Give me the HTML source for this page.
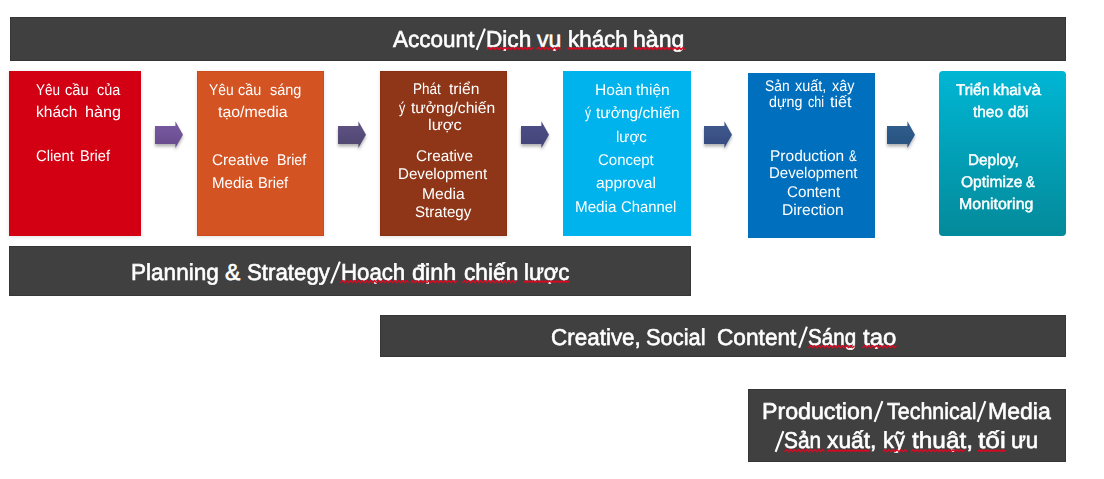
<!DOCTYPE html>
<html><head><meta charset="utf-8"><style>
html,body{margin:0;padding:0;background:#fff;width:1104px;height:479px;overflow:hidden;position:relative}
.b{position:absolute;box-sizing:border-box}
.bar{position:absolute;box-sizing:border-box;background:#404040;border:1px solid #363636}
.t{position:absolute;font-family:"Liberation Sans",sans-serif;line-height:0;white-space:pre;color:#fff;transform-origin:0 0}
.big{-webkit-text-stroke:0.6px #fff}
.med{-webkit-text-stroke:0.45px #fff}
.gp{text-rendering:geometricPrecision}
svg{position:absolute;left:0;top:0}
</style></head><body>
<div class="bar" style="left:10px;top:17px;width:1056px;height:44px"></div>
<div class="bar" style="left:9px;top:246px;width:682px;height:50px"></div>
<div class="bar" style="left:380px;top:315px;width:686px;height:42px"></div>
<div class="bar" style="left:748px;top:389px;width:318px;height:73px"></div>
<div class="b" style="left:9px;top:71px;width:132px;height:165px;background:#d20012;box-shadow:0 1px 4px rgba(0,0,0,.12)"></div>
<div class="b" style="left:197px;top:71px;width:127px;height:165px;background:#d45323;border:1px solid #cc4a1c;box-shadow:0 1px 4px rgba(0,0,0,.12)"></div>
<div class="b" style="left:380px;top:71px;width:127px;height:165px;background:#8f3618;border:1px solid #873014;box-shadow:0 1px 4px rgba(0,0,0,.12)"></div>
<div class="b" style="left:563px;top:71px;width:128px;height:165px;background:#00b3ec;"></div>
<div class="b" style="left:748px;top:73px;width:127px;height:165px;background:#0070be;"></div>
<div class="b" style="left:939px;top:71px;width:127px;height:165px;background:linear-gradient(#00b6d4,#048a9a);border-radius:4px"></div>
<svg width="1104" height="479" viewBox="0 0 1104 479"><defs><linearGradient id="g0" x1="0" y1="0" x2="0" y2="1"><stop offset="0" stop-color="#7a5ba3"/><stop offset="1" stop-color="#664a8c"/></linearGradient><linearGradient id="g1" x1="0" y1="0" x2="0" y2="1"><stop offset="0" stop-color="#5f5486"/><stop offset="1" stop-color="#4f456e"/></linearGradient><linearGradient id="g2" x1="0" y1="0" x2="0" y2="1"><stop offset="0" stop-color="#4e4f88"/><stop offset="1" stop-color="#424477"/></linearGradient><linearGradient id="g3" x1="0" y1="0" x2="0" y2="1"><stop offset="0" stop-color="#3f5b8f"/><stop offset="1" stop-color="#36497e"/></linearGradient><linearGradient id="g4" x1="0" y1="0" x2="0" y2="1"><stop offset="0" stop-color="#2f5f8f"/><stop offset="1" stop-color="#2a517e"/></linearGradient><filter id="sh" x="-30%" y="-30%" width="160%" height="180%"><feDropShadow dx="0" dy="2.5" stdDeviation="1.8" flood-color="#000" flood-opacity="0.3"/></filter></defs><polygon points="155,126 175.4,126 175.4,121.3 183,134.8 175.4,148 175.4,144 155,144" fill="url(#g0)" filter="url(#sh)"/><polygon points="338,126 358.4,126 358.4,121.3 366,134.8 358.4,148 358.4,144 338,144" fill="url(#g1)" filter="url(#sh)"/><polygon points="521,126 541.4,126 541.4,121.3 549,134.8 541.4,148 541.4,144 521,144" fill="url(#g2)" filter="url(#sh)"/><polygon points="704,126 724.4,126 724.4,121.3 732,134.8 724.4,148 724.4,144 704,144" fill="url(#g3)" filter="url(#sh)"/><polygon points="887,126 907.4,126 907.4,121.3 915,134.8 907.4,148 907.4,144 887,144" fill="url(#g4)" filter="url(#sh)"/></svg>
<div class="t big gp" style="left:393.00px;top:39.00px;font-size:23px;font-weight:400;transform:scaleX(0.9795)">Account</div>
<div class="t big gp" style="left:486.02px;top:39.00px;font-size:23px;font-weight:400;transform:scaleX(0.9837)">Dịch</div>
<div class="t big gp" style="left:537.00px;top:39.00px;font-size:23px;font-weight:400;transform:scaleX(1.0000)">vụ</div>
<div class="t big gp" style="left:567.53px;top:39.00px;font-size:23px;font-weight:400;transform:scaleX(0.9734)">khách</div>
<div class="t big gp" style="left:632.50px;top:39.00px;font-size:23px;font-weight:400;transform:scaleX(1.0025)">hàng</div>
<div class="t big gp" style="left:131.02px;top:272.00px;font-size:23px;font-weight:400;transform:scaleX(0.9803)">Planning</div>
<div class="t big gp" style="left:225.00px;top:272.00px;font-size:23px;font-weight:400;transform:scaleX(1.0000)">&</div>
<div class="t big gp" style="left:246.53px;top:272.00px;font-size:23px;font-weight:400;transform:scaleX(0.9688)">Strategy</div>
<div class="t big gp" style="left:340.53px;top:272.00px;font-size:23px;font-weight:400;transform:scaleX(0.9661)">Hoạch</div>
<div class="t big gp" style="left:412.00px;top:272.00px;font-size:23px;font-weight:400;transform:scaleX(1.0189)">định</div>
<div class="t big gp" style="left:463.50px;top:272.00px;font-size:23px;font-weight:400;transform:scaleX(0.9872)">chiến</div>
<div class="t big gp" style="left:523.53px;top:272.00px;font-size:23px;font-weight:400;transform:scaleX(0.9651)">lược</div>
<div class="t big gp" style="left:551.02px;top:337.00px;font-size:23px;font-weight:400;transform:scaleX(0.9761)">Creative,</div>
<div class="t big gp" style="left:646.05px;top:337.00px;font-size:23px;font-weight:400;transform:scaleX(0.9499)">Social</div>
<div class="t big gp" style="left:717.01px;top:337.00px;font-size:23px;font-weight:400;transform:scaleX(0.9855)">Content</div>
<div class="t big gp" style="left:808.10px;top:337.00px;font-size:23px;font-weight:400;transform:scaleX(0.8955)">Sáng</div>
<div class="t big gp" style="left:862.50px;top:337.00px;font-size:23px;font-weight:400;transform:scaleX(1.0423)">tạo</div>
<div class="t big gp" style="left:762.49px;top:411.00px;font-size:23px;font-weight:400;transform:scaleX(1.0077)">Production</div>
<div class="t big gp" style="left:886.50px;top:411.00px;font-size:23px;font-weight:400;transform:scaleX(0.9338)">Technical</div>
<div class="t big gp" style="left:987.50px;top:411.00px;font-size:23px;font-weight:400;transform:scaleX(1.0024)">Media</div>
<div class="t big gp" style="left:784.09px;top:440.00px;font-size:23px;font-weight:400;transform:scaleX(0.9072)">Sản</div>
<div class="t big gp" style="left:827.00px;top:440.00px;font-size:23px;font-weight:400;transform:scaleX(0.9902)">xuất,</div>
<div class="t big gp" style="left:883.04px;top:440.00px;font-size:23px;font-weight:400;transform:scaleX(0.9556)">kỹ</div>
<div class="t big gp" style="left:911.50px;top:440.00px;font-size:23px;font-weight:400;transform:scaleX(1.0596)">thuật,</div>
<div class="t big gp" style="left:978.00px;top:440.00px;font-size:23px;font-weight:400;transform:scaleX(1.1431)">tối</div>
<div class="t big gp" style="left:1011.03px;top:440.00px;font-size:23px;font-weight:400;transform:scaleX(0.9660)">ưu</div>
<div class="t gp" style="left:35.90px;top:91.00px;font-size:15.5px;font-weight:400;transform:scaleX(0.8717)">Yêu</div>
<div class="t gp" style="left:64.90px;top:91.00px;font-size:15.5px;font-weight:400;transform:scaleX(0.9479)">cầu</div>
<div class="t gp" style="left:97.00px;top:91.00px;font-size:15.5px;font-weight:400;transform:scaleX(0.9302)">của</div>
<div class="t gp" style="left:36.20px;top:113.00px;font-size:15.5px;font-weight:400;transform:scaleX(1.0040)">khách</div>
<div class="t gp" style="left:85.15px;top:113.00px;font-size:15.5px;font-weight:400;transform:scaleX(1.0468)">hàng</div>
<div class="t gp" style="left:36.00px;top:157.00px;font-size:15.5px;font-weight:400;transform:scaleX(0.9573)">Client</div>
<div class="t gp" style="left:79.86px;top:157.00px;font-size:15.5px;font-weight:400;transform:scaleX(0.9409)">Brief</div>
<div class="t gp" style="left:208.80px;top:91.00px;font-size:15.5px;font-weight:400;transform:scaleX(0.8940)">Yêu</div>
<div class="t gp" style="left:238.20px;top:91.00px;font-size:15.5px;font-weight:400;transform:scaleX(0.9274)">cầu</div>
<div class="t gp" style="left:270.40px;top:91.00px;font-size:15.5px;font-weight:400;transform:scaleX(0.9336)">sáng</div>
<div class="t gp" style="left:218.00px;top:113.00px;font-size:15.5px;font-weight:400;transform:scaleX(1.0227)">tạo/media</div>
<div class="t gp" style="left:212.10px;top:161.00px;font-size:15.5px;font-weight:400;transform:scaleX(0.9808)">Creative</div>
<div class="t gp" style="left:276.88px;top:161.00px;font-size:15.5px;font-weight:400;transform:scaleX(0.9156)">Brief</div>
<div class="t gp" style="left:211.63px;top:184.00px;font-size:15.5px;font-weight:400;transform:scaleX(0.9712)">Media</div>
<div class="t gp" style="left:258.06px;top:184.00px;font-size:15.5px;font-weight:400;transform:scaleX(0.9441)">Brief</div>
<div class="t gp" style="left:413.43px;top:90.00px;font-size:15.5px;font-weight:400;transform:scaleX(0.8708)">Phát</div>
<div class="t gp" style="left:449.40px;top:90.00px;font-size:15.5px;font-weight:400;transform:scaleX(1.0091)">triển</div>
<div class="t gp" style="left:399.00px;top:109.00px;font-size:15.5px;font-weight:400;transform:scaleX(0.8125)">ý</div>
<div class="t gp" style="left:410.80px;top:109.00px;font-size:15.5px;font-weight:400;transform:scaleX(1.0093)">tưởng/chiến</div>
<div class="t gp" style="left:427.93px;top:126.00px;font-size:15.5px;font-weight:400;transform:scaleX(1.0651)">lược</div>
<div class="t gp" style="left:415.70px;top:157.00px;font-size:15.5px;font-weight:400;transform:scaleX(0.9861)">Creative</div>
<div class="t gp" style="left:398.02px;top:175.00px;font-size:15.5px;font-weight:400;transform:scaleX(0.9756)">Development</div>
<div class="t gp" style="left:421.99px;top:195.00px;font-size:15.5px;font-weight:400;transform:scaleX(1.0097)">Media</div>
<div class="t gp" style="left:415.40px;top:213.00px;font-size:15.5px;font-weight:400;transform:scaleX(0.9763)">Strategy</div>
<div class="t gp" style="left:594.80px;top:91.00px;font-size:15.5px;font-weight:400;transform:scaleX(1.0047)">Hoàn</div>
<div class="t gp" style="left:636.00px;top:91.00px;font-size:15.5px;font-weight:400;transform:scaleX(1.0033)">thiện</div>
<div class="t gp" style="left:585.40px;top:114.00px;font-size:15.5px;font-weight:400;transform:scaleX(0.7750)">ý</div>
<div class="t gp" style="left:596.30px;top:114.00px;font-size:15.5px;font-weight:400;transform:scaleX(1.0033)">tưởng/chiến</div>
<div class="t gp" style="left:616.03px;top:138.00px;font-size:15.5px;font-weight:400;transform:scaleX(0.9682)">lược</div>
<div class="t gp" style="left:597.60px;top:161.00px;font-size:15.5px;font-weight:400;transform:scaleX(0.9653)">Concept</div>
<div class="t gp" style="left:596.00px;top:184.00px;font-size:15.5px;font-weight:400;transform:scaleX(1.0082)">approval</div>
<div class="t gp" style="left:574.62px;top:208.00px;font-size:15.5px;font-weight:400;transform:scaleX(0.9809)">Media</div>
<div class="t gp" style="left:621.00px;top:208.00px;font-size:15.5px;font-weight:400;transform:scaleX(0.9564)">Channel</div>
<div class="t gp" style="left:765.00px;top:87.00px;font-size:15.5px;font-weight:400;transform:scaleX(0.8902)">Sản</div>
<div class="t gp" style="left:794.70px;top:87.00px;font-size:15.5px;font-weight:400;transform:scaleX(0.9289)">xuất,</div>
<div class="t gp" style="left:832.00px;top:87.00px;font-size:15.5px;font-weight:400;transform:scaleX(0.9315)">xây</div>
<div class="t gp" style="left:768.80px;top:103.00px;font-size:15.5px;font-weight:400;transform:scaleX(0.9209)">dựng</div>
<div class="t gp" style="left:808.00px;top:103.00px;font-size:15.5px;font-weight:400;transform:scaleX(0.8157)">chi</div>
<div class="t gp" style="left:830.20px;top:103.00px;font-size:15.5px;font-weight:400;transform:scaleX(1.0388)">tiết</div>
<div class="t gp" style="left:769.80px;top:157.00px;font-size:15.5px;font-weight:400;transform:scaleX(1.0003)">Production</div>
<div class="t gp" style="left:848.70px;top:157.00px;font-size:15.5px;font-weight:400;transform:scaleX(0.7364)">&</div>
<div class="t gp" style="left:769.03px;top:174.00px;font-size:15.5px;font-weight:400;transform:scaleX(0.9690)">Development</div>
<div class="t gp" style="left:786.50px;top:193.00px;font-size:15.5px;font-weight:400;transform:scaleX(0.9785)">Content</div>
<div class="t gp" style="left:782.39px;top:211.00px;font-size:15.5px;font-weight:400;transform:scaleX(1.0077)">Direction</div>
<div class="t med gp" style="left:955.90px;top:91.00px;font-size:15.5px;font-weight:400;transform:scaleX(0.9702)">Triển</div>
<div class="t med gp" style="left:992.91px;top:91.00px;font-size:15.5px;font-weight:400;transform:scaleX(0.9929)">khai</div>
<div class="t med gp" style="left:1023.40px;top:91.00px;font-size:15.5px;font-weight:400;transform:scaleX(1.1104)">và</div>
<div class="t med gp" style="left:973.10px;top:113.00px;font-size:15.5px;font-weight:400;transform:scaleX(0.9950)">theo</div>
<div class="t med gp" style="left:1008.00px;top:113.00px;font-size:15.5px;font-weight:400;transform:scaleX(0.9832)">dõi</div>
<div class="t med gp" style="left:968.21px;top:161.00px;font-size:15.5px;font-weight:400;transform:scaleX(0.9899)">Deploy,</div>
<div class="t med gp" style="left:960.50px;top:183.00px;font-size:15.5px;font-weight:400;transform:scaleX(1.0028)">Optimize</div>
<div class="t med gp" style="left:1025.70px;top:183.00px;font-size:15.5px;font-weight:400;transform:scaleX(0.8455)">&</div>
<div class="t med gp" style="left:959.47px;top:205.00px;font-size:15.5px;font-weight:400;transform:scaleX(1.0276)">Monitoring</div>
<svg width="1104" height="479" viewBox="0 0 1104 479"><polyline points="487.0,49.5 489.0,47.5 491.0,49.5 493.0,47.5 495.0,49.5 497.0,47.5 499.0,49.5 501.0,47.5 503.0,49.5 505.0,47.5 507.0,49.5 509.0,47.5 511.0,49.5 513.0,47.5 515.0,49.5 517.0,47.5 519.0,49.5 521.0,47.5 523.0,49.5 525.0,47.5 527.0,49.5 529.0,47.5 531.0,49.5 533.0,47.5" fill="none" stroke="#e3061e" stroke-width="1.25"/><polyline points="536.5,49.5 538.5,47.5 540.5,49.5 542.5,47.5 544.5,49.5 546.5,47.5 548.5,49.5 550.5,47.5 552.5,49.5 554.5,47.5 556.5,49.5 558.5,47.5 560.5,49.5" fill="none" stroke="#e3061e" stroke-width="1.25"/><polyline points="567.5,49.5 569.5,47.5 571.5,49.5 573.5,47.5 575.5,49.5 577.5,47.5 579.5,49.5 581.5,47.5 583.5,49.5 585.5,47.5 587.5,49.5 589.5,47.5 591.5,49.5 593.5,47.5 595.5,49.5 597.5,47.5 599.5,49.5 601.5,47.5 603.5,49.5 605.5,47.5 607.5,49.5 609.5,47.5 611.5,49.5 613.5,47.5 615.5,49.5 617.5,47.5 619.5,49.5 621.5,47.5 623.5,49.5 625.5,47.5" fill="none" stroke="#e3061e" stroke-width="1.25"/><polyline points="633.0,49.5 635.0,47.5 637.0,49.5 639.0,47.5 641.0,49.5 643.0,47.5 645.0,49.5 647.0,47.5 649.0,49.5 651.0,47.5 653.0,49.5 655.0,47.5 657.0,49.5 659.0,47.5 661.0,49.5 663.0,47.5 665.0,49.5 667.0,47.5 669.0,49.5 671.0,47.5 673.0,49.5 675.0,47.5 677.0,49.5 679.0,47.5 681.0,49.5 683.0,47.5 685.0,49.5" fill="none" stroke="#e3061e" stroke-width="1.25"/><polyline points="340.5,282.7 342.5,280.7 344.5,282.7 346.5,280.7 348.5,282.7 350.5,280.7 352.5,282.7 354.5,280.7 356.5,282.7 358.5,280.7 360.5,282.7 362.5,280.7 364.5,282.7 366.5,280.7 368.5,282.7 370.5,280.7 372.5,282.7 374.5,280.7 376.5,282.7 378.5,280.7 380.5,282.7 382.5,280.7 384.5,282.7 386.5,280.7 388.5,282.7 390.5,280.7 392.5,282.7 394.5,280.7 396.5,282.7 398.5,280.7 400.5,282.7 402.5,280.7 404.5,282.7 406.5,280.7 408.5,282.7" fill="none" stroke="#e3061e" stroke-width="1.25"/><polyline points="411.0,282.7 413.0,280.7 415.0,282.7 417.0,280.7 419.0,282.7 421.0,280.7 423.0,282.7 425.0,280.7 427.0,282.7 429.0,280.7 431.0,282.7 433.0,280.7 435.0,282.7 437.0,280.7 439.0,282.7 441.0,280.7 443.0,282.7 445.0,280.7 447.0,282.7 449.0,280.7 451.0,282.7 453.0,280.7 455.0,282.7 457.0,280.7" fill="none" stroke="#e3061e" stroke-width="1.25"/><polyline points="462.5,282.7 464.5,280.7 466.5,282.7 468.5,280.7 470.5,282.7 472.5,280.7 474.5,282.7 476.5,280.7 478.5,282.7 480.5,280.7 482.5,282.7 484.5,280.7 486.5,282.7 488.5,280.7 490.5,282.7 492.5,280.7 494.5,282.7 496.5,280.7 498.5,282.7 500.5,280.7 502.5,282.7 504.5,280.7 506.5,282.7 508.5,280.7 510.5,282.7 512.5,280.7 514.5,282.7 516.5,280.7" fill="none" stroke="#e3061e" stroke-width="1.25"/><polyline points="523.5,282.7 525.5,280.7 527.5,282.7 529.5,280.7 531.5,282.7 533.5,280.7 535.5,282.7 537.5,280.7 539.5,282.7 541.5,280.7 543.5,282.7 545.5,280.7 547.5,282.7 549.5,280.7 551.5,282.7 553.5,280.7 555.5,282.7 557.5,280.7 559.5,282.7 561.5,280.7 563.5,282.7 565.5,280.7 567.5,282.7 569.5,280.7" fill="none" stroke="#e3061e" stroke-width="1.25"/><polyline points="808.5,347.7 810.5,345.7 812.5,347.7 814.5,345.7 816.5,347.7 818.5,345.7 820.5,347.7 822.5,345.7 824.5,347.7 826.5,345.7 828.5,347.7 830.5,345.7 832.5,347.7 834.5,345.7 836.5,347.7 838.5,345.7 840.5,347.7 842.5,345.7 844.5,347.7 846.5,345.7 848.5,347.7 850.5,345.7 852.5,347.7 854.5,345.7" fill="none" stroke="#e3061e" stroke-width="1.25"/><polyline points="862.5,347.7 864.5,345.7 866.5,347.7 868.5,345.7 870.5,347.7 872.5,345.7 874.5,347.7 876.5,345.7 878.5,347.7 880.5,345.7 882.5,347.7 884.5,345.7 886.5,347.7 888.5,345.7 890.5,347.7 892.5,345.7 894.5,347.7 896.5,345.7" fill="none" stroke="#e3061e" stroke-width="1.25"/><polyline points="784.5,451.7 786.5,449.7 788.5,451.7 790.5,449.7 792.5,451.7 794.5,449.7 796.5,451.7 798.5,449.7 800.5,451.7 802.5,449.7 804.5,451.7 806.5,449.7 808.5,451.7 810.5,449.7 812.5,451.7 814.5,449.7 816.5,451.7 818.5,449.7 820.5,451.7 822.5,449.7 824.5,451.7" fill="none" stroke="#e3061e" stroke-width="1.25"/><polyline points="827.5,451.7 829.5,449.7 831.5,451.7 833.5,449.7 835.5,451.7 837.5,449.7 839.5,451.7 841.5,449.7 843.5,451.7 845.5,449.7 847.5,451.7 849.5,449.7 851.5,451.7 853.5,449.7 855.5,451.7 857.5,449.7 859.5,451.7 861.5,449.7 863.5,451.7 865.5,449.7 867.5,451.7 869.5,449.7" fill="none" stroke="#e3061e" stroke-width="1.25"/><polyline points="883.0,451.7 885.0,449.7 887.0,451.7 889.0,449.7 891.0,451.7 893.0,449.7 895.0,451.7 897.0,449.7 899.0,451.7 901.0,449.7 903.0,451.7 905.0,449.7 907.0,451.7" fill="none" stroke="#e3061e" stroke-width="1.25"/><polyline points="911.0,451.7 913.0,449.7 915.0,451.7 917.0,449.7 919.0,451.7 921.0,449.7 923.0,451.7 925.0,449.7 927.0,451.7 929.0,449.7 931.0,451.7 933.0,449.7 935.0,451.7 937.0,449.7 939.0,451.7 941.0,449.7 943.0,451.7 945.0,449.7 947.0,451.7 949.0,449.7 951.0,451.7 953.0,449.7 955.0,451.7 957.0,449.7 959.0,451.7 961.0,449.7 963.0,451.7 965.0,449.7" fill="none" stroke="#e3061e" stroke-width="1.25"/><polyline points="977.5,451.7 979.5,449.7 981.5,451.7 983.5,449.7 985.5,451.7 987.5,449.7 989.5,451.7 991.5,449.7 993.5,451.7 995.5,449.7 997.5,451.7 999.5,449.7 1001.5,451.7 1003.5,449.7 1005.5,451.7" fill="none" stroke="#e3061e" stroke-width="1.25"/><line x1="476.6" y1="49.9" x2="484.9" y2="28.6" stroke="#fff" stroke-width="2.1"/><line x1="331.1" y1="283.4" x2="339.9" y2="261.6" stroke="#fff" stroke-width="2.1"/><line x1="799.1" y1="347.9" x2="806.9" y2="326.6" stroke="#fff" stroke-width="2.1"/><line x1="874.6" y1="421.9" x2="882.4" y2="401.1" stroke="#fff" stroke-width="2.1"/><line x1="977.6" y1="421.9" x2="985.4" y2="401.1" stroke="#fff" stroke-width="2.1"/><line x1="775.6" y1="451.9" x2="783.4" y2="431.1" stroke="#fff" stroke-width="2.1"/></svg>
</body></html>
